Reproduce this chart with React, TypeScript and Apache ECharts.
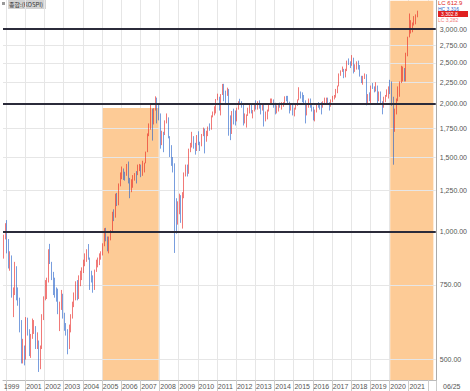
import React, { useEffect, useRef } from 'react';
import * as echarts from 'echarts';

// Monthly KOSPI candles, Nov 1999 .. Jun 2021
const closes = [
  981, 1028,
  943, 829, 861, 725, 731, 821, 705, 688, 613, 514, 526, 504,
  617, 576, 523, 566, 595, 595, 541, 545, 479, 535, 632, 693,
  723, 766, 895, 843, 796, 742, 719, 714, 646, 667, 681, 627,
  591, 575, 535, 599, 633, 670, 710, 759, 697, 779, 796, 810,
  848, 880, 883, 862, 803, 785, 735, 810, 835, 845, 878, 896,
  932, 1011, 965, 911, 970, 1008, 1111, 1083, 1221, 1158, 1297, 1379,
  1399, 1371, 1359, 1420, 1317, 1295, 1297, 1352, 1371, 1364, 1432, 1434,
  1360, 1417, 1452, 1542, 1700, 1743, 1933, 1873, 1946, 2064, 1906, 1897,
  1624, 1711, 1704, 1825, 1852, 1674, 1594, 1474, 1448, 1113, 1076, 1124,
  1162, 1063, 1206, 1369, 1395, 1390, 1557, 1591, 1673, 1580, 1555, 1682,
  1602, 1594, 1692, 1741, 1641, 1698, 1759, 1742, 1872, 1882, 1904, 2051,
  2069, 1939, 2106, 2192, 2142, 2100, 2133, 1880, 1769, 1909, 1847, 1825,
  1955, 2030, 2014, 1981, 1843, 1854, 1881, 1905, 1996, 1912, 1932, 1997,
  1961, 2026, 2005, 1963, 2001, 1863, 1914, 1926, 2005, 2030, 2044, 2011,
  1941, 1980, 1986, 1961, 1995, 2002, 2076, 2068, 2020, 1964, 1981, 1916,
  1949, 1986, 2041, 2127, 2115, 2074, 2030, 1941, 1963, 2029, 1992, 1961,
  1912, 1917, 1996, 1994, 1983, 1970, 2016, 2034, 2043, 2008, 1983, 2026,
  2067, 2091, 2160, 2205, 2347, 2392, 2402, 2363, 2394, 2523, 2476, 2467,
  2566, 2427, 2445, 2515, 2423, 2326, 2295, 2322, 2343, 2029, 2096, 2041,
  2204, 2195, 2140, 2203, 2041, 2130, 2024, 1967, 2063, 2083, 2087, 2197,
  2119, 1987, 1754, 1947, 2030, 2108, 2249, 2326, 2327, 2267, 2591, 2873,
  2976, 3013, 3061, 3147, 3204, 3296,
];

const highs = [
  985, 1048,
  1066, 962, 900, 880, 740, 850, 830, 740, 700, 620, 560, 540,
  630, 628, 590, 575, 625, 620, 600, 580, 555, 540, 640, 705,
  770, 780, 910, 937, 850, 805, 780, 740, 735, 685, 730, 715,
  645, 610, 590, 605, 640, 685, 720, 765, 770, 790, 810, 825,
  860, 890, 910, 936, 870, 810, 790, 815, 860, 870, 890, 900,
  940, 1020, 1022, 975, 975, 1010, 1115, 1130, 1230, 1235, 1300, 1380,
  1425, 1410, 1385, 1445, 1464, 1340, 1330, 1360, 1375, 1390, 1440, 1445,
  1440, 1470, 1455, 1545, 1705, 1800, 2004, 1950, 1955, 2085, 2070, 2000,
  1900, 1730, 1720, 1830, 1900, 1860, 1680, 1600, 1500, 1450, 1200, 1180,
  1230, 1220, 1240, 1380, 1440, 1440, 1570, 1620, 1720, 1680, 1620, 1690,
  1725, 1630, 1700, 1760, 1750, 1730, 1770, 1800, 1880, 1920, 1975, 2055,
  2115, 2080, 2110, 2230, 2231, 2150, 2185, 2170, 1880, 1925, 1950, 1930,
  1960, 2030, 2057, 2030, 1990, 1900, 1890, 1960, 2010, 2000, 1935, 2000,
  2040, 2030, 2040, 2010, 2010, 2010, 1920, 1940, 2010, 2060, 2060, 2050,
  2013, 1985, 1990, 2015, 2020, 2020, 2085, 2090, 2090, 2025, 1990, 2000,
  1960, 1990, 2050, 2190, 2140, 2130, 2100, 2040, 1990, 2060, 2060, 2010,
  1970, 1940, 2000, 2020, 2000, 2020, 2030, 2070, 2070, 2070, 2020, 2050,
  2090, 2100, 2170, 2210, 2360, 2400, 2450, 2420, 2420, 2530, 2560, 2520,
  2607, 2570, 2480, 2520, 2530, 2470, 2330, 2330, 2360, 2350, 2110, 2130,
  2210, 2240, 2200, 2250, 2210, 2140, 2140, 2030, 2080, 2100, 2165, 2200,
  2280, 2260, 2080, 1950, 2060, 2200, 2260, 2460, 2450, 2430, 2640, 2880,
  3266, 3150, 3110, 3220, 3250, 3316,
];

const lows = [
  865, 960,
  890, 820, 810, 700, 630, 710, 690, 670, 580, 490, 490, 485,
  500, 570, 510, 505, 560, 575, 530, 530, 468, 475, 530, 620,
  690, 695, 760, 840, 770, 710, 700, 685, 640, 584, 655, 625,
  585, 570, 515, 530, 580, 625, 665, 690, 690, 695, 745, 770,
  800, 830, 850, 860, 730, 760, 719, 730, 805, 825, 835, 860,
  880, 925, 950, 900, 890, 955, 1000, 1060, 1080, 1150, 1155, 1280,
  1330, 1325, 1320, 1355, 1300, 1200, 1240, 1270, 1320, 1300, 1360, 1390,
  1345, 1355, 1380, 1450, 1540, 1680, 1740, 1640, 1790, 1930, 1800, 1830,
  1570, 1600, 1540, 1690, 1800, 1660, 1500, 1430, 1380, 892, 990, 1040,
  1100, 1050, 1018, 1200, 1350, 1350, 1370, 1540, 1580, 1570, 1520, 1550,
  1600, 1550, 1590, 1680, 1530, 1630, 1680, 1730, 1740, 1860, 1880, 1900,
  2040, 1930, 1880, 2100, 2030, 2010, 2090, 1684, 1644, 1700, 1790, 1780,
  1820, 1940, 1990, 1960, 1780, 1800, 1760, 1875, 1900, 1900, 1850, 1920,
  1940, 1940, 1950, 1890, 1930, 1770, 1820, 1840, 1920, 2000, 1990, 1960,
  1890, 1900, 1920, 1960, 1940, 1970, 1990, 2030, 2010, 1900, 1930, 1880,
  1870, 1940, 1980, 2040, 2060, 2020, 2010, 1800, 1880, 1960, 1960, 1920,
  1830, 1820, 1910, 1960, 1940, 1890, 1960, 2000, 1990, 2000, 1930, 1970,
  2020, 2050, 2070, 2120, 2200, 2330, 2380, 2300, 2310, 2390, 2470, 2430,
  2460, 2360, 2380, 2410, 2410, 2320, 2240, 2220, 2290, 1985, 2010, 2030,
  1990, 2170, 2130, 2140, 2010, 2030, 2010, 1891, 1960, 2020, 2080, 2060,
  2110, 1980, 1439, 1720, 1890, 2030, 2080, 2240, 2260, 2260, 2260, 2590,
  2870, 2930, 2950, 3060, 3080, 3200,
];

const firstOpen = 880;
const yTicks = [500, 750, 1000, 1250, 1500, 1750, 2000, 2250, 2500, 2750, 3000];
const refLines = [1000, 2000, 3000];
const bands = [
  { from: '2005-01', to: '2007-12', top: 1957 },
  { from: '2020-01', to: '2022-04', top: 3500 },
];
const yMin = 448;
const yMax = 3514;

const months: string[] = [];
{
  let y = 1999;
  let m = 11;
  while (!(y === 2022 && m === 6)) {
    months.push(`${y}-${String(m).padStart(2, '0')}`);
    m++;
    if (m > 12) { m = 1; y++; }
  }
}

const candles = closes.map((c, i) => [i === 0 ? firstOpen : closes[i - 1], c, lows[i], highs[i]]);

const fmt = (v: number) =>
  Math.round(v).toLocaleString('en-US', { minimumFractionDigits: 2, maximumFractionDigits: 2 });

const isYearTick = (_i: number, v: string) => v.endsWith('-01');
const isLabel = (i: number, v: string) =>
  i === 0 || (v.endsWith('-01') && !v.startsWith('2000') && !v.startsWith('2022'));

const FONT = 'Liberation Sans';

export default function App() {
  const ref = useRef<HTMLDivElement>(null);
  useEffect(() => {
    if (!ref.current) return;
    document.body.style.margin = '0';
    const chart = echarts.init(ref.current, undefined, { renderer: 'svg' });
    chart.setOption({
      animation: false,
      grid: { left: 3, right: 33, top: 0, bottom: 11 },
      xAxis: {
        type: 'category',
        data: months,
        boundaryGap: true,
        axisLine: { show: true, lineStyle: { color: '#bbb' } },
        axisTick: { show: true, interval: isYearTick, length: 11, lineStyle: { color: '#ccc' } },
        axisLabel: {
          interval: isLabel,
          formatter: (v: string) => v.slice(0, 4),
          align: 'left',
          fontSize: 7,
          fontFamily: FONT,
          color: '#555',
          margin: 3,
        },
        splitLine: { show: true, interval: isYearTick, lineStyle: { color: '#e6e6e6' } },
      },
      yAxis: {
        type: 'log',
        logBase: 10,
        position: 'right',
        min: yMin,
        max: yMax,
        z: 1.5,
        axisLine: { show: true, lineStyle: { color: '#aaa' } },
        axisTick: { show: false, customValues: yTicks },
        axisLabel: {
          customValues: yTicks,
          formatter: (v: number) => fmt(v),
          fontSize: 7,
          fontFamily: FONT,
          color: '#555',
          margin: 4,
        },
        splitLine: { show: true, lineStyle: { color: '#e6e6e6' } },
      },
      series: [
        {
          type: 'candlestick',
          data: candles,
          barWidth: 1.2,
          itemStyle: {
            color: '#e8201c',
            color0: '#1e5cc8',
            borderColor: '#e8201c',
            borderColor0: '#1e5cc8',
            borderWidth: 0.6,
          },
          markArea: {
            silent: true,
            itemStyle: { color: '#fdcb96' },
            data: bands.map((b) => [
              { xAxis: b.from, yAxis: b.top },
              { xAxis: b.to, yAxis: yMin },
            ]),
          },
          markLine: {
            silent: true,
            symbol: 'none',
            label: { show: false },
            lineStyle: { color: '#2b2b3a', width: 2, type: 'solid' },
            data: refLines.map((v) => ({ yAxis: v })),
          },
        },
      ],
      graphic: [
        { type: 'rect', shape: { x: 2, y: 2, width: 3, height: 3 }, style: { fill: '#999' } },
        { type: 'rect', shape: { x: 8, y: 0, width: 38, height: 9 }, style: { fill: '#d3d3d3' } },
        { type: 'text', x: 9, y: 1, style: { text: '종합:(KOSPI)', font: '6px "Noto Sans CJK KR"', fill: '#333' } },
        { type: 'text', x: 438, y: 0, style: { text: 'LC 612.9', font: `6px "${FONT}"`, fill: '#e02020' } },
        { type: 'text', x: 438, y: 6, style: { text: 'HC 3,316', font: `5px "${FONT}"`, fill: '#2a62c8' } },
        { type: 'rect', shape: { x: 438, y: 11, width: 30, height: 6 }, style: { fill: '#e02020' } },
        { type: 'text', x: 441, y: 11.5, style: { text: '3,302.8', font: `5px "${FONT}"`, fill: '#fff' } },
        { type: 'text', x: 438, y: 17.5, style: { text: 'LC 3,282', font: `5px "${FONT}"`, fill: '#f08080' } },
        { type: 'text', x: 443, y: 383, style: { text: '06/25', font: `7px "${FONT}"`, fill: '#555' } },
      ],
    });
    return () => chart.dispose();
  }, []);
  return <div ref={ref} style={{ width: 470, height: 391 }} />;
}
